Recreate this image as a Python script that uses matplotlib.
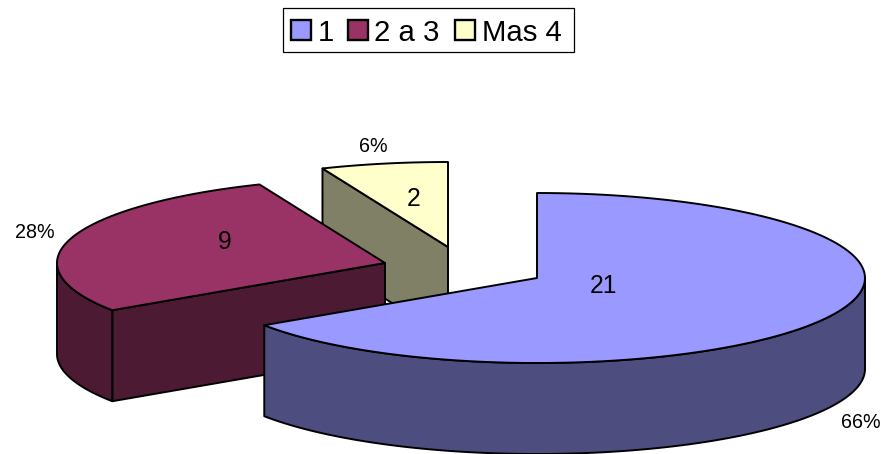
import numpy as np
import matplotlib
matplotlib.use("Agg")
import matplotlib.pyplot as plt
from matplotlib.patches import Polygon, Rectangle

categories = ["1", "2 a 3", "Mas 4"]
values = [21, 9, 2]
top_colors = ["#9999FF", "#993366", "#FFFFCC"]
side_colors = ["#4D4D80", "#4D1A33", "#808066"]

# apex of each pulled-out slice, in pixels
centers = [(537, 278), (385, 263), (448, 247)]
value_pos = [(603.5, 286), (224.5, 242), (413.5, 199)]
percent_pos = [(860.5, 422), (35, 233), (373.5, 146)]
legend_swatch_x = [291, 348, 455]
legend_text_x = [317.5, 374.5, 482]

RX = 328
RY = 85
DEPTH = 91
LW = 1.4

plt.rcParams["font.family"] = ["Liberation Sans", "DejaVu Sans"]


def rim(center, a0, a1, drop=0):
    # angles are clockwise from 12 o'clock, squashed onto the ellipse
    t = np.radians(np.linspace(a0, a1, 120))
    x = center[0] + RX * np.sin(t)
    y = center[1] - RY * np.cos(t) + drop
    return np.column_stack([x, y])


def add_poly(ax, pts, color, z):
    ax.add_patch(Polygon(pts, closed=True, facecolor=color, edgecolor="black",
                         linewidth=LW, joinstyle="round", zorder=z))


fig = plt.figure(figsize=(8.84, 4.54), dpi=100)
ax = fig.add_axes([0, 0, 1, 1])
ax.set_xlim(0, 884)
ax.set_ylim(454, 0)
ax.axis("off")

total = sum(values)
bounds = np.cumsum([0] + values) / total * 360

# back slices first so the big one ends up on top
for i in [2, 1, 0]:
    a0, a1 = bounds[i], bounds[i + 1]
    c = centers[i]
    z = 3 - i
    apex = np.array(c, dtype=float)
    down = np.array([0, DEPTH])

    # flat wall on the radial edge where it faces the viewer
    if i > 0:
        edge = rim(c, a0, a0)[0]
        add_poly(ax, [edge, apex, apex + down, edge + down], side_colors[i], z)

    # curved outer wall on the front half of the rim
    w0, w1 = max(a0, 90), min(a1, 270)
    if w0 < w1:
        upper = rim(c, w0, w1)
        lower = rim(c, w0, w1, DEPTH)
        add_poly(ax, np.vstack([upper, lower[::-1]]), side_colors[i], z)

    add_poly(ax, np.vstack([[apex], rim(c, a0, a1)]), top_colors[i], z)

    ax.text(*value_pos[i], str(values[i]), fontsize=17.8, ha="center",
            va="center", color="black", zorder=5)
    ax.text(*percent_pos[i], f"{values[i] / total:.0%}", fontsize=14.2,
            ha="center", va="center", color="black", zorder=5)

# legend box
ax.add_patch(Rectangle((282.5, 7.5), 291, 44, facecolor="white",
                       edgecolor="black", linewidth=0.9, zorder=6))
for name, color, sx, tx in zip(categories, top_colors, legend_swatch_x, legend_text_x):
    ax.add_patch(Rectangle((sx, 20), 20, 20, facecolor=color, edgecolor="black",
                           linewidth=1.7, zorder=7))
    ax.text(tx, 30, name, fontsize=21.2, ha="left", va="center_baseline",
            color="black", zorder=7)

fig.savefig("out.png", dpi=100)
